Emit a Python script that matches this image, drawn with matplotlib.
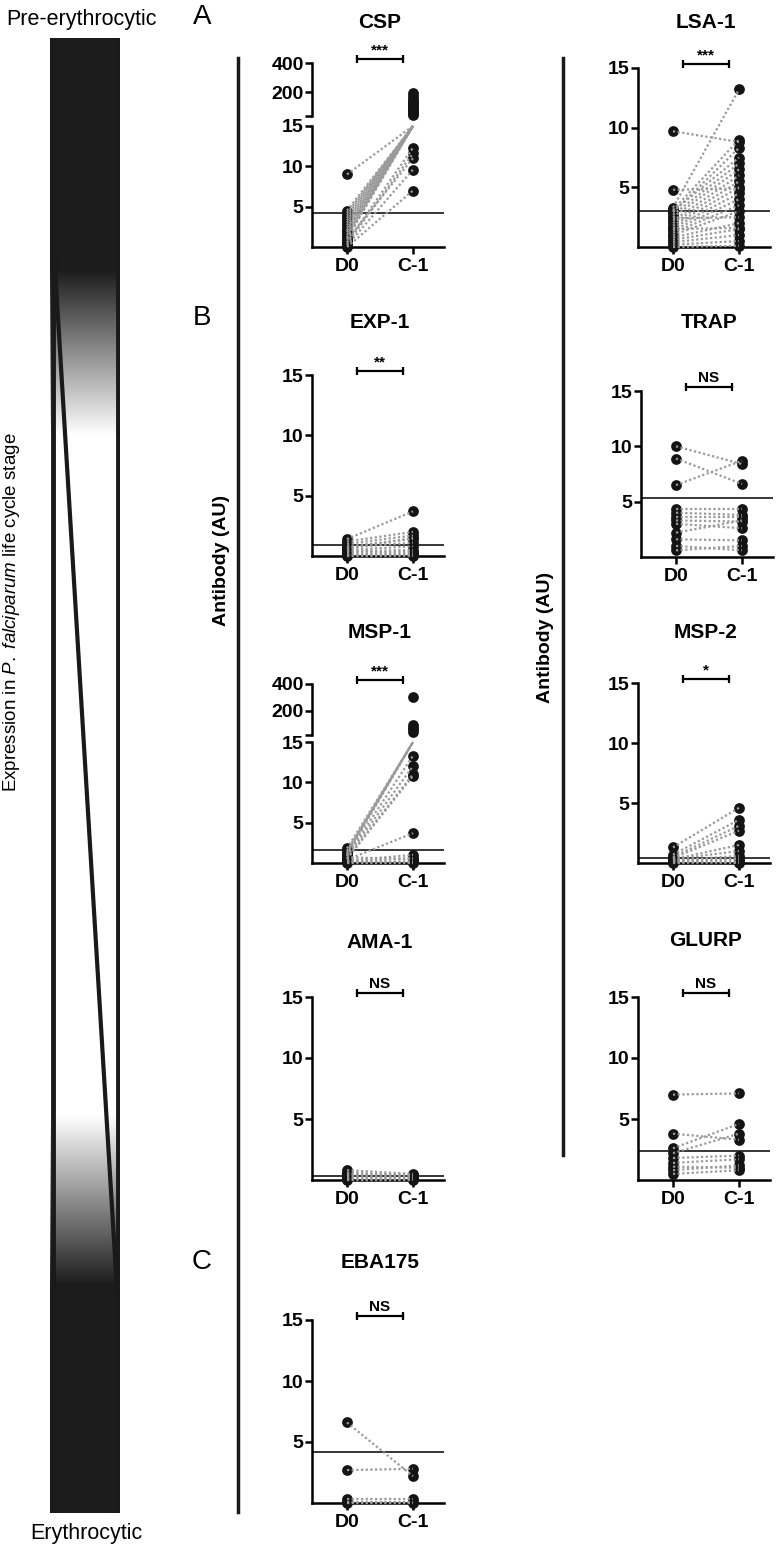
import numpy as np
import matplotlib.pyplot as plt
from matplotlib.transforms import blended_transform_factory, offset_copy

plt.rcParams['font.family'] = ['Liberation Sans', 'DejaVu Sans']
plt.rcParams['mathtext.fontset'] = 'custom'
plt.rcParams['mathtext.rm'] = 'Liberation Sans'
plt.rcParams['mathtext.it'] = 'Liberation Sans:italic'

groups = ['D0', 'C-1']

# antibody (AU), paired per volunteer: D0 -> C-1
csp_d0 = [9.0, 4.5, 4.2, 3.9, 3.6, 3.3, 3.0, 2.7, 2.4, 2.1, 1.8, 1.5, 1.2, 0.9, 0.6, 0.4, 0.2, 0.0, 2.0, 1.0]
csp_c1 = [190, 140, 110, 80, 60, 50, 170, 120, 90, 150, 100, 70, 45, 11.0, 12.3, 11.6, 9.6, 7.0, 130, 55]
lsa1_d0 = [9.7, 4.8, 3.3, 3.1, 2.9, 2.7, 2.5, 2.2, 2.0, 1.8, 1.6, 1.4, 1.2, 1.0, 0.8, 0.6, 0.4, 0.2, 0.0, 1.5, 2.4, 3.0]
lsa1_c1 = [8.8, 4.9, 13.2, 9.0, 8.3, 7.0, 6.5, 6.0, 5.5, 5.0, 4.5, 4.0, 3.5, 3.0, 2.0, 1.5, 1.0, 0.5, 0.1, 1.6, 2.5, 7.5]
exp1_d0 = [1.4, 1.2, 1.0, 0.8, 0.7, 0.5, 0.4, 0.3, 0.2, 0.1, 0.0, 0.6]
exp1_c1 = [3.7, 2.0, 1.7, 1.4, 1.1, 0.8, 0.5, 0.3, 0.2, 0.1, 0.0, 1.5]
trap_d0 = [10.0, 8.9, 6.5, 4.3, 4.0, 3.6, 3.3, 3.0, 2.2, 1.6, 1.0, 0.6]
trap_c1 = [8.4, 6.6, 8.7, 4.3, 3.8, 3.6, 3.2, 2.6, 3.3, 1.5, 0.6, 1.0]
msp1_d0 = [1.8, 1.5, 1.3, 1.1, 0.9, 0.8, 0.6, 0.5, 0.4, 0.3, 0.2, 0.1, 0.0, 0.7, 1.0, 0.2]
msp1_c1 = [300, 90, 60, 40, 13.3, 12.0, 11.0, 10.8, 3.7, 1.0, 0.6, 0.2, 0.0, 0.5, 70, 0.1]
msp2_d0 = [1.3, 0.7, 0.5, 0.4, 0.3, 0.3, 0.2, 0.1, 0.0, 0.2, 0.1]
msp2_c1 = [4.6, 3.6, 3.1, 2.7, 1.5, 1.0, 0.6, 0.3, 0.1, 0.4, 0.0]
ama1_d0 = [0.8, 0.6, 0.5, 0.4, 0.3, 0.2, 0.1, 0.0]
ama1_c1 = [0.5, 0.4, 0.4, 0.3, 0.2, 0.2, 0.1, 0.0]
glurp_d0 = [7.0, 3.8, 2.6, 2.2, 1.8, 1.4, 1.1, 0.8, 0.5]
glurp_c1 = [7.1, 3.3, 4.6, 3.8, 2.0, 1.7, 1.0, 1.2, 0.8]
eba_d0 = [6.6, 2.7, 0.3, 0.1, 0.0]
eba_c1 = [2.2, 2.8, 0.3, 0.1, 0.0]

# positivity cut-offs and significance
cutoffs = {'CSP': 4.2, 'LSA-1': 3.0, 'EXP-1': 0.9, 'TRAP': 5.3, 'MSP-1': 1.6,
           'MSP-2': 0.45, 'AMA-1': 0.3, 'GLURP': 2.4, 'EBA175': 4.15}
signif = {'CSP': '***', 'LSA-1': '***', 'EXP-1': '**', 'TRAP': 'NS', 'MSP-1': '***',
          'MSP-2': '*', 'AMA-1': 'NS', 'GLURP': 'NS', 'EBA175': 'NS'}

W, H = 778, 1548
fig = plt.figure(figsize=(W / 100, H / 100), dpi=100)


def box(x0, y0, x1, y1):
    return [x0 / W, 1 - y1 / H, (x1 - x0) / W, (y1 - y0) / H]


DOT = dict(ls=(0, (1, 1.1)), color='#9a9a9a', lw=1.6, zorder=4, clip_on=False)
PT = dict(s=60, color='#141414', zorder=3, clip_on=False, linewidths=0)
SPW = 1.8


def style(ax):
    for s in ['top', 'right']:
        ax.spines[s].set_visible(False)
    for s in ['left', 'bottom']:
        ax.spines[s].set_linewidth(SPW)
    ax.tick_params(width=SPW, length=5, labelsize=14, pad=1)
    ax.set_xlim(-0.53, 1.47)
    ax.patch.set_alpha(0)


def sig_bar(ax, text):
    tr = blended_transform_factory(ax.transData, ax.transAxes)
    ax.plot([0.15, 0.85], [1, 1], color='black', lw=1.6, marker='|', ms=6, mew=1.6,
            transform=offset_copy(tr, fig, y=4, units='dots'), clip_on=False)
    ax.text(0.5, 1, text, ha='center', va='bottom', fontsize=11, fontweight='bold',
            transform=offset_copy(tr, fig, y=6, units='dots'))


def panel(name, d0, c1, xs, y0, y15, yt, upper=None):
    d0 = np.array(d0)
    c1 = np.array(c1)
    ax = fig.add_axes(box(xs, y15, xs + 132, y0))
    style(ax)
    ax.set_ylim(0, 15)
    ax.spines['left'].set_bounds(0, 15)
    ax.set_yticks([5, 10, 15])
    ax.set_xticks([0, 1])
    ax.set_xticklabels(groups)
    ax.tick_params(axis='x', pad=3)
    for lab in ax.get_xticklabels() + ax.get_yticklabels():
        lab.set_fontweight('bold')
    ax.axhline(cutoffs[name], color='black', lw=1.1, zorder=2)
    for a, b in zip(d0, c1):
        ax.plot([0, 1], [a, min(b, 15)], **DOT)
    ax.scatter(np.zeros(len(d0)), d0, **PT)
    low = c1 <= 15
    ax.scatter(np.ones(low.sum()), c1[low], **PT)
    top_ax = ax
    if upper is not None:
        ytop, ybot, lo = upper
        ax2 = fig.add_axes(box(xs, ytop, xs + 132, ybot))
        style(ax2)
        ax2.spines['bottom'].set_visible(False)
        ax2.set_ylim(lo, 400)
        ax2.set_yticks([lo, 200, 400])
        ax2.set_yticklabels(['', '200', '400'])
        ax2.set_xticks([])
        for lab in ax2.get_yticklabels():
            lab.set_fontweight('bold')
        ax2.scatter(np.ones((~low).sum()), c1[~low], **PT)
        top_ax = ax2
    sig_bar(top_ax, signif[name])
    fig.text((xs + 68) / W, 1 - yt / H, name, ha='center', va='center',
             fontsize=15, fontweight='bold')


XL, XR = 312, 638
panel('CSP', csp_d0, csp_c1, XL, 247, 126, 22, upper=(63, 116, 35))
panel('LSA-1', lsa1_d0, lsa1_c1, XR, 247, 68, 22)
panel('EXP-1', exp1_d0, exp1_c1, XL, 556, 375, 323)
panel('TRAP', trap_d0, trap_c1, XR + 3, 557, 391, 323)
panel('MSP-1', msp1_d0, msp1_c1, XL, 863, 742, 632, upper=(684, 735, 18))
panel('MSP-2', msp2_d0, msp2_c1, XR, 863, 683, 632)
panel('AMA-1', ama1_d0, ama1_c1, XL, 1180, 997, 942)
panel('GLURP', glurp_d0, glurp_c1, XR, 1180, 997, 940)
panel('EBA175', eba_d0, eba_c1, XL, 1503, 1320, 1263)

# life-cycle expression bar
axb = fig.add_axes(box(50, 38, 120, 1513))
rows = np.arange(38, 1513)
shade = np.interp(rows, [38, 270, 435, 1115, 1285, 1513], [0.11, 0.11, 1.0, 1.0, 0.11, 0.11])
axb.imshow(shade[:, None], cmap='gray', vmin=0, vmax=1, aspect='auto',
           extent=[50, 120, 1513, 38], interpolation='bilinear')
axb.set_xlim(50, 120)
axb.set_ylim(1513, 38)
axb.plot([52.5, 52.5], [38, 1513], color='#1a1a1a', lw=3.5)
axb.plot([117.5, 117.5], [38, 1513], color='#1a1a1a', lw=3.5)
axb.plot([53, 117], [235, 1290], color='#1a1a1a', lw=3)
axb.axis('off')

# separators and labels
fig.add_artist(plt.Line2D([238 / W, 238 / W], [1 - 58 / H, 1 - 1512 / H], color='#1a1a1a', lw=2.5))
fig.add_artist(plt.Line2D([563 / W, 563 / W], [1 - 58 / H, 1 - 1155 / H], color='#1a1a1a', lw=2.5))
fig.text(222 / W, 1 - 560 / H, 'Antibody (AU)', rotation=90, ha='center', va='center',
         fontsize=14, fontweight='bold')
fig.text(545 / W, 1 - 637 / H, 'Antibody (AU)', rotation=90, ha='center', va='center',
         fontsize=14, fontweight='bold')
fig.text(12 / W, 1 - 612 / H, r'Expression in $\it{P.\ falciparum}$ life cycle stage',
         rotation=90, ha='center', va='center', fontsize=13.5)
fig.text(81 / W, 1 - 20 / H, 'Pre-erythrocytic', ha='center', va='center', fontsize=15.5)
fig.text(86 / W, 1 - 1533 / H, 'Erythrocytic', ha='center', va='center', fontsize=15.5)
for letter, (lx, ly) in zip(['A', 'B', 'C'], [(202, 17), (202, 318), (202, 1262)]):
    fig.text(lx / W, 1 - ly / H, letter, ha='center', va='center', fontsize=20)

fig.savefig('out.png', dpi=100)
